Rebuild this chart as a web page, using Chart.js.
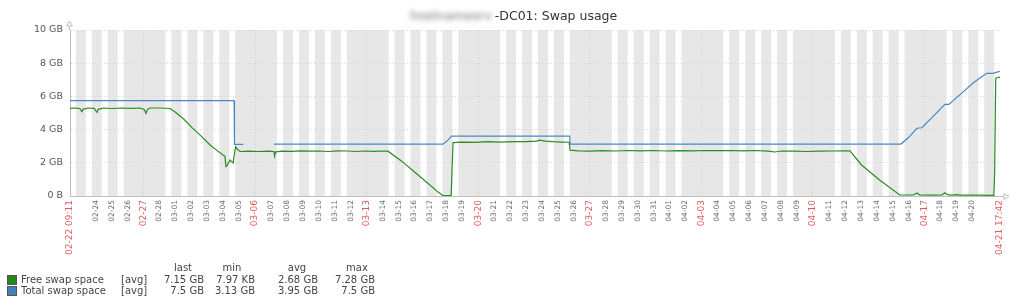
<!DOCTYPE html>
<html>
<head>
<meta charset="utf-8">
<script src="https://cdn.jsdelivr.net/npm/chart.js@4"></script>
<style>
body { margin: 0; background: #fff; font-family: 'DejaVu Sans', sans-serif; }
#wrap { position: relative; width: 1024px; height: 306px; }
#swap { position: absolute; left: 0; top: 0; }
#title { position: absolute; left: 0; top: 8px; width: 1024px; text-align: center; font-size: 12.5px; line-height: 16px; color: #333; }
#title .host { display: inline-block; width: 88px; overflow: hidden; filter: blur(2.5px); color: #777; vertical-align: top; }
.lg { position: absolute; font-size: 10px; line-height: 11px; color: #444; white-space: nowrap; }
.sq { position: absolute; width: 8px; height: 8px; }
</style>
</head>
<body>
<div id="wrap">
  <canvas id="swap" width="1024" height="306"></canvas>
  <div id="title"><span class="host">hostnamesrv</span>-DC01: Swap usage</div>
</div>
<script>
// time axis: days since 02-22 00:00
const startDay = 0.38264;   // 02-22 09:11
const endDay = 58.7375;     // 04-21 17:42
const startLabel = '02-22 09:11';
const endLabel = '04-21 17:42';
const firstDay = 2;         // 02-24
const dayLabels = [
  '02-24','02-25','02-26','02-27','02-28',
  '03-01','03-02','03-03','03-04','03-05','03-06','03-07','03-08','03-09','03-10',
  '03-11','03-12','03-13','03-14','03-15','03-16','03-17','03-18','03-19','03-20',
  '03-21','03-22','03-23','03-24','03-25','03-26','03-27','03-28','03-29','03-30','03-31',
  '04-01','04-02','04-03','04-04','04-05','04-06','04-07','04-08','04-09','04-10',
  '04-11','04-12','04-13','04-14','04-15','04-16','04-17','04-18','04-19','04-20'
];
const redLabels = ['02-27','03-06','03-13','03-20','03-27','04-03','04-10','04-17', startLabel, endLabel];
const yTickLabels = ['0 B','2 GB','4 GB','6 GB','8 GB','10 GB'];

const freeDays = [0.383,0.70,1.00,1.10,1.14,1.20,1.50,1.90,2.03,2.08,2.15,2.50,3.00,3.60,4.20,4.80,5.05,5.15,5.25,5.40,
  6.00,6.66,7.00,7.50,8.04,8.60,9.17,9.60,9.98,10.10,10.17,10.25,10.42,10.55,10.62,10.70,10.78,10.90,11.05,11.60,
  12.20,12.80,13.18,13.22,13.28,13.70,14.30,14.80,15.40,16.00,16.60,17.20,17.80,18.30,18.90,19.50,20.00,20.33,21.20,22.00,
  22.80,23.50,23.78,24.30,24.36,24.42,25.00,25.80,26.60,27.40,28.20,29.00,29.68,29.87,30.20,30.70,31.20,31.70,31.76,32.30,
  33.00,33.80,34.60,35.40,36.20,37.00,37.80,38.60,39.40,40.20,41.00,41.80,42.60,43.40,44.20,44.60,45.00,45.80,46.60,47.40,
  48.20,49.00,49.32,50.05,51.20,52.45,53.30,53.52,53.70,54.50,55.10,55.28,55.45,55.70,56.00,56.30,57.20,58.35,58.40,58.47,
  58.60,58.7375];
const freeGB = [5.28,5.30,5.27,5.12,5.08,5.22,5.30,5.28,5.10,5.04,5.22,5.30,5.27,5.30,5.28,5.30,5.20,4.98,5.22,5.30,
  5.30,5.27,5.05,4.65,4.12,3.62,3.07,2.75,2.47,2.40,1.78,1.85,2.17,2.05,2.00,2.55,2.97,2.80,2.68,2.70,
  2.68,2.70,2.68,2.40,2.66,2.70,2.69,2.72,2.70,2.71,2.68,2.72,2.71,2.68,2.71,2.69,2.71,2.70,2.10,1.45,
  0.80,0.22,0.03,0.03,1.80,3.22,3.25,3.23,3.27,3.25,3.28,3.28,3.31,3.37,3.31,3.27,3.25,3.24,2.76,2.72,
  2.70,2.73,2.71,2.74,2.72,2.74,2.71,2.73,2.72,2.74,2.73,2.74,2.72,2.74,2.70,2.65,2.71,2.70,2.68,2.70,
  2.71,2.72,2.72,1.87,0.95,0.06,0.06,0.18,0.07,0.05,0.07,0.20,0.08,0.05,0.08,0.05,0.05,0.04,1.37,7.09,
  7.15,7.15];

const totalDays = [0.383,10.68,10.69,10.72,11.25,12.20,13.18,23.79,24.05,24.33,31.74,31.76,52.52,53.00,53.52,53.83,
  54.50,55.28,55.53,56.30,57.03,57.50,57.91,58.29,58.60,58.7375];
const totalGB = [5.74,5.74,4.58,3.11,3.11,null,3.13,3.13,3.32,3.61,3.61,3.13,3.13,3.52,4.08,4.11,
  4.75,5.52,5.52,6.17,6.79,7.12,7.39,7.39,7.48,7.50];

const legendNames = ['Free swap space', 'Total swap space'];
const legendColors = ['#1f8a1a', '#3f80bb'];
const statHeads = ['last', 'min', 'avg', 'max'];
const statFree = ['7.15 GB', '7.97 KB', '2.68 GB', '7.28 GB'];
const statTotal = ['7.5 GB', '3.13 GB', '3.95 GB', '7.5 GB'];

// working time Mon-Fri 09:00-18:00 (02-22 was a Tuesday)
const firstWeekday = 2;
const workStart = 9, workEnd = 18;

const tickValues = [startDay].concat(dayLabels.map((l, i) => firstDay + i), [endDay]);
const tickText = new Map(tickValues.map((v, i) =>
  [v, i === 0 ? startLabel : (i === tickValues.length - 1 ? endLabel : dayLabels[i - 1])]));
const isRed = v => redLabels.includes(tickText.get(v));
const redTick = c => !!(c && c.tick && isRed(c.tick.value));

const workStripes = {
  id: 'workStripes',
  beforeDraw(chart) {
    const { ctx, chartArea: a, scales: { x } } = chart;
    ctx.save();
    ctx.fillStyle = '#e7e7e7';
    ctx.fillRect(a.left, a.top, a.right - a.left, a.bottom - a.top);
    ctx.fillStyle = '#ffffff';
    for (let k = 0; k <= Math.ceil(endDay); k++) {
      const wd = (firstWeekday + k) % 7;
      if (wd === 0 || wd === 6) continue;
      const s = Math.max(k + workStart / 24, startDay);
      const e = Math.min(k + workEnd / 24, endDay);
      if (e <= s) continue;
      const x0 = x.getPixelForValue(s), x1 = x.getPixelForValue(e);
      ctx.fillRect(x0, a.top, x1 - x0, a.bottom - a.top);
    }
    ctx.restore();
  }
};

const axisArrows = {
  id: 'axisArrows',
  afterDraw(chart) {
    const { ctx, chartArea: a } = chart;
    ctx.save();
    ctx.strokeStyle = '#bdbdbd';
    ctx.lineWidth = 1;
    ctx.beginPath();
    ctx.moveTo(a.left - 0.5, a.top);
    ctx.lineTo(a.left - 0.5, a.top - 4);
    ctx.moveTo(a.right, a.bottom + 0.5);
    ctx.lineTo(a.right + 4, a.bottom + 0.5);
    ctx.stroke();
    ctx.fillStyle = '#fff';
    ctx.beginPath();
    ctx.moveTo(a.left - 0.5, a.top - 9);
    ctx.lineTo(a.left - 3.5, a.top - 4);
    ctx.lineTo(a.left + 2.5, a.top - 4);
    ctx.closePath();
    ctx.fill(); ctx.stroke();
    ctx.beginPath();
    ctx.moveTo(a.right + 9, a.bottom + 0.5);
    ctx.lineTo(a.right + 4, a.bottom - 2.5);
    ctx.lineTo(a.right + 4, a.bottom + 3.5);
    ctx.closePath();
    ctx.fill(); ctx.stroke();
    ctx.restore();
  }
};

new Chart(document.getElementById('swap'), {
  type: 'line',
  data: {
    datasets: [
      {
        label: legendNames[0],
        data: freeDays.map((d, i) => ({ x: d, y: freeGB[i] })),
        borderColor: '#2a8c22',
        borderWidth: 1.2,
        pointRadius: 0,
        tension: 0
      },
      {
        label: legendNames[1],
        data: totalDays.map((d, i) => ({ x: d, y: totalGB[i] })),
        borderColor: '#4a88c2',
        borderWidth: 1.2,
        pointRadius: 0,
        tension: 0,
        spanGaps: false
      }
    ]
  },
  options: {
    responsive: false,
    animation: false,
    layout: { padding: { top: 30, right: 24, bottom: 46, left: 0 } },
    plugins: { legend: { display: false }, tooltip: { enabled: false } },
    scales: {
      x: {
        type: 'linear',
        min: startDay,
        max: endDay,
        afterBuildTicks: s => { s.ticks = tickValues.map(v => ({ value: v })); },
        afterFit: s => { s.height = 64; },
        grid: {
          drawTicks: false,
          color: c => (redTick(c) && c.tick.value !== startDay && c.tick.value !== endDay) ? '#cfcfcf' : 'rgba(0,0,0,0)',
          borderDash: [1, 2]
        },
        border: { display: true, color: '#bdbdbd', dash: [1, 2] },
        ticks: {
          autoSkip: false,
          minRotation: 90,
          maxRotation: 90,
          padding: 4,
          color: c => redTick(c) ? '#e05a5a' : '#6a6a6a',
          font: c => ({ family: 'DejaVu Sans', size: redTick(c) ? 9 : 7.5 }),
          callback: v => tickText.get(v)
        }
      },
      y: {
        min: 0,
        max: 10,
        afterFit: s => { s.width = 70; },
        grid: { drawTicks: false, color: '#d6d6d6', borderDash: [1, 2] },
        border: { display: true, color: '#bdbdbd', dash: [1, 2] },
        ticks: {
          stepSize: 2,
          padding: 7,
          color: '#555',
          font: { family: 'DejaVu Sans', size: 9.5 },
          callback: (v, i) => yTickLabels[i]
        }
      }
    }
  },
  plugins: [workStripes, axisArrows]
});

// legend table
const wrap = document.getElementById('wrap');
function put(text, css) {
  const d = document.createElement('div');
  d.className = 'lg';
  d.textContent = text;
  Object.assign(d.style, css);
  wrap.appendChild(d);
}
const colRight = [204, 255, 318, 375];
const headCenter = [183, 232, 297, 357];
const rowTop = [273.5, 284.5];
statHeads.forEach((h, i) => put(h, { left: (headCenter[i] - 25) + 'px', width: '50px', textAlign: 'center', top: '262px' }));
[statFree, statTotal].forEach((row, r) => {
  const sq = document.createElement('div');
  sq.className = 'sq';
  Object.assign(sq.style, { left: '7px', top: (rowTop[r] + 1.5) + 'px', background: legendColors[r], border: '1px solid #555' });
  wrap.appendChild(sq);
  put(legendNames[r], { left: '21px', top: rowTop[r] + 'px' });
  put('[avg]', { left: '121px', top: rowTop[r] + 'px' });
  row.forEach((v, i) => put(v, { left: (colRight[i] - 60) + 'px', width: '60px', textAlign: 'right', top: rowTop[r] + 'px' }));
});
</script>
</body>
</html>
